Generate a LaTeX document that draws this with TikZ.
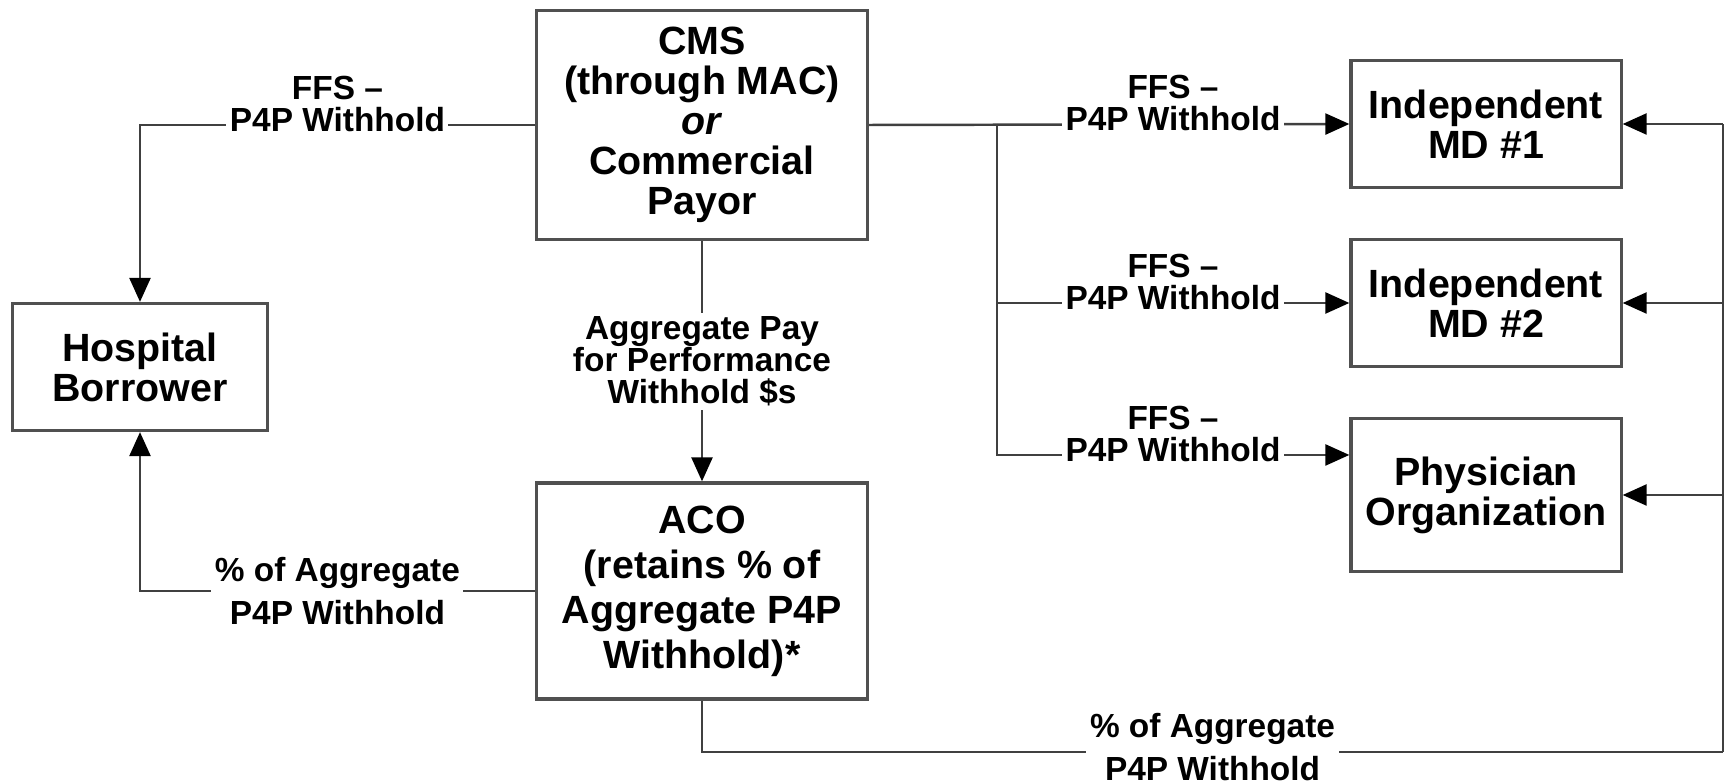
\documentclass[tikz,border=0pt]{standalone}
\usepackage{fontspec}
\setmainfont{Liberation Sans}
\usepackage{xcolor}
\usetikzlibrary{arrows.meta,positioning}
\definecolor{edge}{HTML}{404040}
\definecolor{frame}{HTML}{505050}
\tikzset{
  box/.style={draw=frame, line width=0.9pt, fill=white, align=center, inner sep=0pt,
    font=\fontsize{11.2}{11.4}\selectfont\bfseries},
  flow/.style={draw=edge, line width=0.7pt, -{Triangle[length=2.4mm,width=2.1mm,color=black]}},
  link/.style={draw=edge, line width=0.7pt},
  lab/.style={fill=white, align=center, inner xsep=1pt, inner ysep=1pt,
    font=\fontsize{9.5}{9.2}\selectfont\bfseries},
  labw/.style={lab, font=\fontsize{9.5}{12.4}\selectfont\bfseries}
}

\begin{document}
\begin{tikzpicture}[x=0.01cm, y=-0.01cm]
  \useasboundingbox (0,0) rectangle (1731,783);
  % boxes
  \node[box, minimum width=3.31cm, minimum height=2.29cm] (cms) at (702,125)
    {CMS\\(through MAC)\\\textit{or}\\Commercial\\Payor};
  \node[box, minimum width=2.55cm, minimum height=1.27cm] (hosp) at (140,367)
    {Hospital\\Borrower};
  \node[box, minimum width=3.31cm, minimum height=2.16cm,
    font=\fontsize{11.2}{12.8}\selectfont\bfseries] (aco) at (702,591)
    {ACO\\(retains \% of\\Aggregate P4P\\Withhold)*};
  \node[box, minimum width=2.70cm, minimum height=1.27cm] (mdone) at (1486,124)
    {Independent\\MD \#1};
  \node[box, minimum width=2.70cm, minimum height=1.27cm] (mdtwo) at (1486,303)
    {Independent\\MD \#2};
  \node[box, minimum width=2.70cm, minimum height=1.535cm] (porg) at (1486,495)
    {Physician\\Organization};
  % helper points
  \coordinate (fork) at (997,124);
  \coordinate (rail) at (1723,752);
  \coordinate (railtop) at (1723,124);
  % payor to providers
  \draw[flow] (cms.west) -| (hosp.north)
    node[lab, pos=0.25, yshift=0.21cm] {FFS --\\P4P Withhold};
  \draw[flow] (cms.east) -- (mdone.west);
  \draw[flow] (fork) |- (mdtwo.west);
  \draw[flow] (fork) |- ([yshift=0.4cm]porg.west);
  \node[lab] at (1173,103) {FFS --\\P4P Withhold};
  \node[lab] at (1173,282) {FFS --\\P4P Withhold};
  \node[lab] at (1173,434) {FFS --\\P4P Withhold};
  \draw[flow] (cms.south) -- (aco.north)
    node[lab, midway] {Aggregate Pay\\for Performance\\Withhold \$s};
  % ACO shares
  \draw[flow] (aco.west) -| (hosp.south)
    node[labw, pos=0.25] {\% of Aggregate\\P4P Withhold};
  \draw[link] (aco.south) |- (rail)
    node[labw, pos=0.75, yshift=0.05cm] {\% of Aggregate\\P4P Withhold};
  \draw[link] (rail) -- (railtop);
  \draw[flow] (railtop) -- (mdone.east);
  \draw[flow] (railtop |- mdtwo.east) -- (mdtwo.east);
  \draw[flow] (railtop |- porg.east) -- (porg.east);
\end{tikzpicture}
\end{document}
